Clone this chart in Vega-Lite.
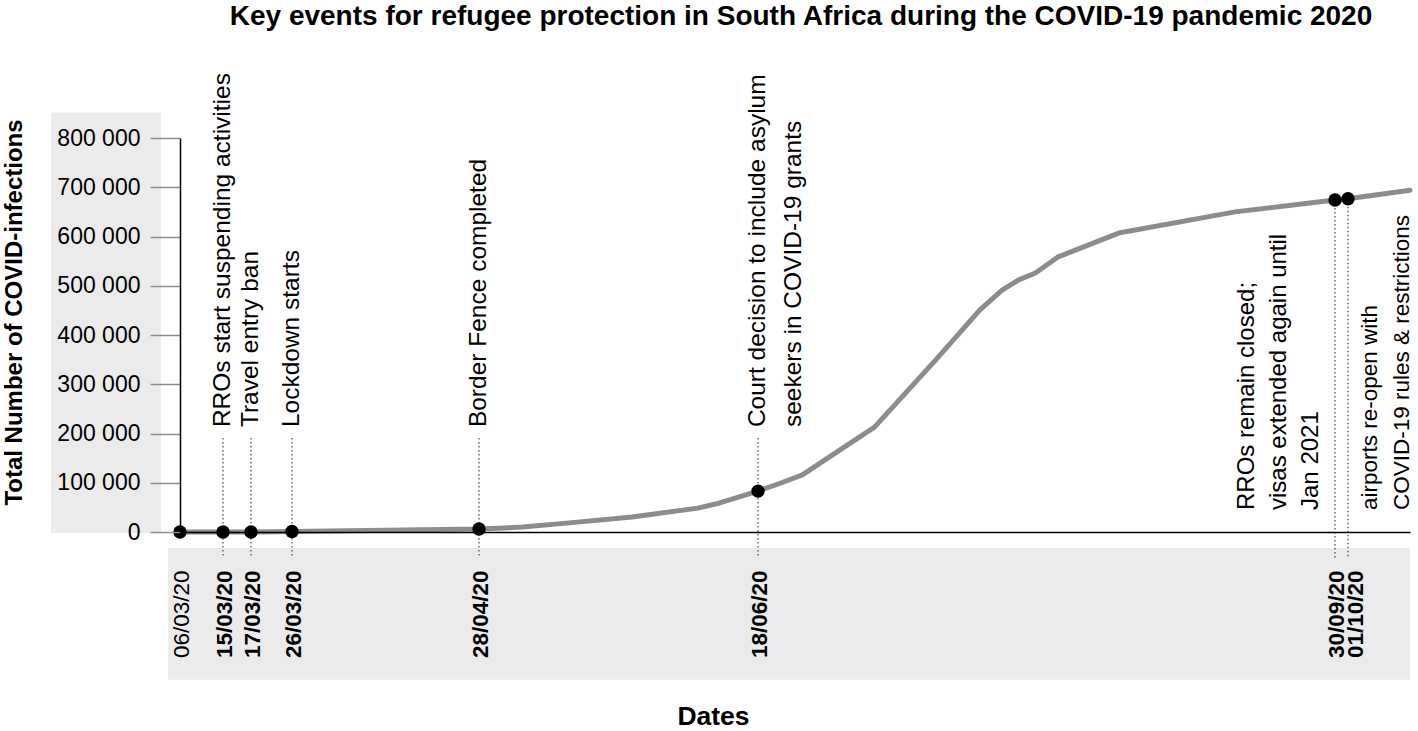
{
  "$schema": "https://vega.github.io/schema/vega-lite/v6.json",
  "width": 1230,
  "height": 394,
  "autosize": {"type": "none"},
  "padding": {"left": 180, "top": 138, "right": 8, "bottom": 199},
  "background": "white",
  "config": {"view": {"stroke": null}, "font": "Liberation Sans"},
  "title": {
    "text": "Key events for refugee protection in South Africa during the COVID-19 pandemic 2020",
    "font": "Liberation Sans",
    "fontSize": 28,
    "fontWeight": "bold",
    "color": "black",
    "anchor": "middle",
    "frame": "group",
    "offset": 42,
    "dx": 6
  },
  "datasets": {
    "series": [
      {"date": "2020-03-06T00:00", "cases": 2},
      {"date": "2020-03-15T00:00", "cases": 51},
      {"date": "2020-03-17T00:00", "cases": 62},
      {"date": "2020-03-26T00:00", "cases": 927},
      {"date": "2020-04-28T00:00", "cases": 6000},
      {"date": "2020-05-06T00:00", "cases": 10000},
      {"date": "2020-05-14T00:00", "cases": 18000},
      {"date": "2020-05-26T00:00", "cases": 30500},
      {"date": "2020-06-07T00:00", "cases": 48500},
      {"date": "2020-06-11T00:00", "cases": 59000},
      {"date": "2020-06-18T00:00", "cases": 83000},
      {"date": "2020-06-22T00:00", "cases": 99000},
      {"date": "2020-06-26T00:00", "cases": 116000},
      {"date": "2020-06-30T00:00", "cases": 146000},
      {"date": "2020-07-09T00:00", "cases": 213000},
      {"date": "2020-07-20T00:00", "cases": 349000},
      {"date": "2020-07-28T00:00", "cases": 451000},
      {"date": "2020-08-01T00:00", "cases": 491000},
      {"date": "2020-08-04T00:00", "cases": 512000},
      {"date": "2020-08-07T00:00", "cases": 526000},
      {"date": "2020-08-11T00:00", "cases": 558000},
      {"date": "2020-08-22T00:00", "cases": 607000},
      {"date": "2020-09-12T00:00", "cases": 650000},
      {"date": "2020-09-30T00:00", "cases": 674000},
      {"date": "2020-10-01T00:00", "cases": 676500},
      {"date": "2020-10-12T00:00", "cases": 694000}
    ],
    "events": [
      {"date": "2020-03-06T00:00", "cases": 2, "placement": "none", "label": [""]},
      {"date": "2020-03-15T00:00", "cases": 51, "placement": "top", "label": ["RROs start suspending activities"]},
      {"date": "2020-03-17T00:00", "cases": 62, "placement": "top", "label": ["Travel entry ban"]},
      {"date": "2020-03-26T00:00", "cases": 927, "placement": "top", "label": ["Lockdown starts"]},
      {"date": "2020-04-28T00:00", "cases": 6000, "placement": "top", "label": ["Border Fence completed"]},
      {"date": "2020-06-18T00:00", "cases": 83000, "placement": "top", "label": ["Court decision to include asylum", "seekers in COVID-19 grants"]},
      {"date": "2020-09-30T00:00", "cases": 674000, "placement": "left", "label": ["RROs remain closed;", "visas extended again until", "Jan 2021"]},
      {"date": "2020-10-01T00:00", "cases": 676500, "placement": "right", "label": ["airports re-open with", "COVID-19 rules & restrictions"]}
    ]
  },
  "layer": [
    {
      "data": {"values": [{}]},
      "mark": {"type": "rect", "color": "#ebebeb"},
      "encoding": {
        "x": {"datum": {"year": 2020, "month": 2, "date": 8}, "type": "temporal"},
        "x2": {"datum": {"year": 2020, "month": 3, "date": 2}},
        "y": {"datum": -2000, "type": "quantitative"},
        "y2": {"datum": 852000}
      }
    },
    {
      "data": {"values": [{}]},
      "mark": {"type": "rect", "color": "#ebebeb"},
      "encoding": {
        "x": {"datum": {"year": 2020, "month": 3, "date": 3, "hours": 12}, "type": "temporal"},
        "x2": {"datum": {"year": 2020, "month": 10, "date": 12}},
        "y": {"datum": -32500, "type": "quantitative"},
        "y2": {"datum": -300000}
      }
    },
    {
      "data": {"name": "events"},
      "transform": [{"filter": "datum.placement == 'top'"}],
      "mark": {"type": "rule", "color": "#444444", "strokeWidth": 1.2, "strokeDash": [1.5, 2.5]},
      "encoding": {
        "x": {"field": "date", "type": "temporal"},
        "y": {"datum": 191000, "type": "quantitative"},
        "y2": {"datum": -53000}
      }
    },
    {
      "data": {"name": "events"},
      "transform": [{"filter": "datum.placement == 'left' || datum.placement == 'right'"}],
      "mark": {"type": "rule", "color": "#444444", "strokeWidth": 1.2, "strokeDash": [1.5, 2.5]},
      "encoding": {
        "x": {"field": "date", "type": "temporal"},
        "y": {"field": "cases", "type": "quantitative"},
        "y2": {"datum": -53000}
      }
    },
    {
      "data": {"name": "series"},
      "mark": {"type": "line", "color": "#8c8c8c", "strokeWidth": 5, "strokeCap": "round", "strokeJoin": "round"},
      "encoding": {
        "x": {
          "field": "date",
          "type": "temporal",
          "scale": {
            "domain": {"expr": "[datetime(2020,2,6), datetime(2020,2,15), datetime(2020,2,17), datetime(2020,2,26), datetime(2020,3,28), datetime(2020,5,18), datetime(2020,8,30), datetime(2020,9,1), datetime(2020,9,12)]"},
            "range": [0, 43, 71, 112, 299, 578, 1155, 1168, 1230],
            "nice": false
          },
          "axis": {
            "title": "Dates",
            "titleFont": "Liberation Sans",
            "titleFontSize": 26.5,
            "titleFontWeight": "bold",
            "titleColor": "black",
            "titleAngle": 0,
            "titleX": 533,
            "titleY": 192,
            "titleAlign": "center",
            "titleBaseline": "alphabetic",
            "values": [
              {"year": 2020, "month": 3, "date": 6},
              {"year": 2020, "month": 3, "date": 15},
              {"year": 2020, "month": 3, "date": 17},
              {"year": 2020, "month": 3, "date": 26},
              {"year": 2020, "month": 4, "date": 28},
              {"year": 2020, "month": 6, "date": 18},
              {"year": 2020, "month": 9, "date": 30},
              {"year": 2020, "month": 10, "date": 1}
            ],
            "format": "%d/%m/%y",
            "labelAngle": -90,
            "labelAlign": "right",
            "labelBaseline": "middle",
            "labelPadding": 38,
            "labelOffset": {"condition": {"test": "month(datum.value) == 9", "value": 7}, "value": 1},
            "labelFont": "Liberation Sans",
            "labelFontSize": 22.5,
            "labelColor": "black",
            "labelFontWeight": {"condition": {"test": "month(datum.value) == 2 && date(datum.value) == 6", "value": "normal"}, "value": "bold"},
            "labelOverlap": false,
            "labelFlush": false,
            "labelBound": false,
            "ticks": false,
            "tickSize": 0,
            "domainColor": "black",
            "domainWidth": 1.5,
            "grid": false,
            "zindex": 1
          }
        },
        "y": {
          "field": "cases",
          "type": "quantitative",
          "scale": {"domain": [0, 800000], "nice": false, "zero": false},
          "axis": {
            "title": "Total Number of COVID-infections",
            "titleFont": "Liberation Sans",
            "titleFontSize": 24,
            "titleFontWeight": "bold",
            "titleColor": "black",
            "titleAngle": -90,
            "titleX": -166,
            "titleY": 174,
            "titleAlign": "center",
            "titleBaseline": "middle",
            "values": [0, 100000, 200000, 300000, 400000, 500000, 600000, 700000, 800000],
            "labelExpr": "replace(format(datum.value, ','), ',', ' ')",
            "labelFont": "Liberation Sans",
            "labelFontSize": 23,
            "labelColor": "black",
            "labelPadding": 10,
            "labelBaseline": "middle",
            "labelAlign": "right",
            "labelOverlap": false,
            "labelFlush": false,
            "tickSize": 30,
            "tickColor": "#8c8c8c",
            "tickWidth": 1.5,
            "domainColor": "black",
            "domainWidth": 1.5,
            "grid": false,
            "zindex": 1
          }
        }
      }
    },
    {
      "data": {"name": "events"},
      "mark": {"type": "circle", "color": "black", "opacity": 1, "size": 180},
      "encoding": {
        "x": {"field": "date", "type": "temporal"},
        "y": {"field": "cases", "type": "quantitative"}
      }
    },
    {
      "data": {"name": "events"},
      "transform": [{"filter": "datum.placement == 'top'"}],
      "mark": {"type": "text", "angle": 270, "align": "left", "baseline": "middle", "font": "Liberation Sans", "fontSize": 24.5, "lineHeight": 36, "color": "black"},
      "encoding": {
        "x": {"field": "date", "type": "temporal"},
        "y": {"datum": 213000, "type": "quantitative"},
        "text": {"field": "label"}
      }
    },
    {
      "data": {"name": "events"},
      "transform": [{"filter": "datum.placement == 'left'"}],
      "mark": {"type": "text", "angle": 270, "align": "left", "baseline": "bottom", "dy": -76, "font": "Liberation Sans", "fontSize": 24, "lineHeight": 32, "color": "black"},
      "encoding": {
        "x": {"field": "date", "type": "temporal"},
        "y": {"datum": 44700, "type": "quantitative"},
        "text": {"field": "label"}
      }
    },
    {
      "data": {"name": "events"},
      "transform": [{"filter": "datum.placement == 'right'"}],
      "mark": {"type": "text", "angle": 270, "align": "left", "baseline": "top", "dy": 11, "font": "Liberation Sans", "fontSize": 22.5, "lineHeight": 32, "color": "black"},
      "encoding": {
        "x": {"field": "date", "type": "temporal"},
        "y": {"datum": 44700, "type": "quantitative"},
        "text": {"field": "label"}
      }
    }
  ]
}
